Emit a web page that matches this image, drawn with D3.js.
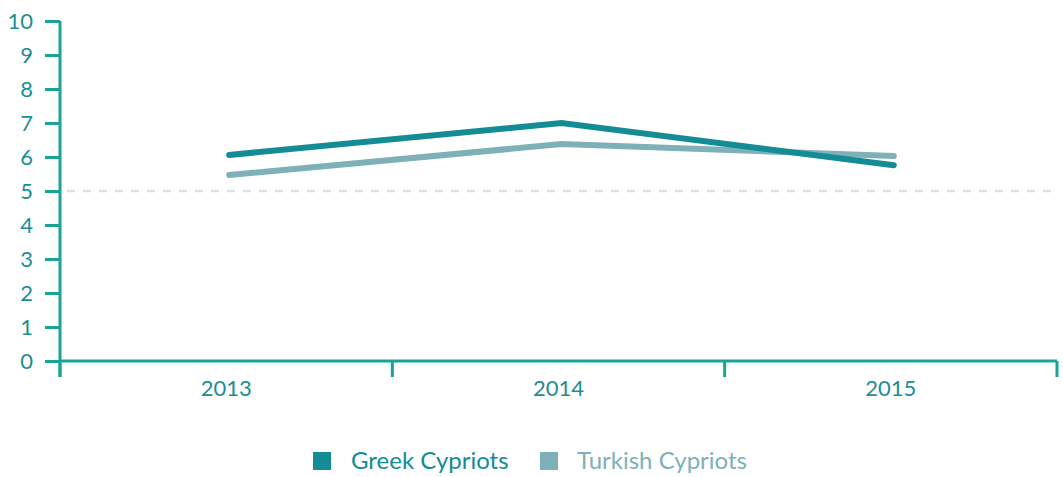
<!DOCTYPE html>
<html>
<head>
<meta charset="utf-8">
<script src="https://cdn.jsdelivr.net/npm/d3@7"></script>
<style>
  body { margin: 0; background: #fff; }
  text { font-family: Lato, "Open Sans", sans-serif; }
</style>
</head>
<body>
<div id="plot"></div>
<script>
let years = ['2013', '2014', '2015'];
let greekValues = [6.06, 7.0, 5.76];
let turkishValues = [5.47, 6.38, 6.03];
let seriesNames = ['Greek Cypriots', 'Turkish Cypriots'];
let seriesColors = ['#138c96', '#7eb0b9'];
let yTicks = [0, 1, 2, 3, 4, 5, 6, 7, 8, 9, 10];

let axisColor = '#1aa397',
    textColor = '#1b8e95';

let width = 1063, height = 477;
let margin = { top: 21, right: 6, bottom: 116, left: 60 };

let svg = d3.select('#plot')
    .append('svg')
        .attr('width', width)
        .attr('height', height);

let x = d3.scaleBand()
    .domain(years)
    .range([margin.left, width - margin.right]);

let y = d3.scaleLinear()
    .domain([0, 10])
    .range([height - margin.bottom, margin.top]);

// reference line at 5
svg.append('line')
    .attr('x1', margin.left + 7)
    .attr('x2', width - margin.right)
    .attr('y1', y(5))
    .attr('y2', y(5))
    .attr('stroke', '#d3e5e5')
    .attr('stroke-width', 2.5)
    .attr('stroke-dasharray', '8,8');

// y axis
let yAxis = svg.append('g')
    .attr('transform', 'translate(' + margin.left + ',0)')
    .call(d3.axisLeft(y).tickValues(yTicks).tickSize(15).tickPadding(12).tickSizeOuter(0));
yAxis.select('.domain').remove();
yAxis.selectAll('.tick line').attr('stroke', axisColor).attr('stroke-width', 3);
yAxis.selectAll('.tick text')
    .attr('fill', textColor)
    .style('font-size', '22px')
    .attr('dy', '0.36em');

svg.append('line')
    .attr('x1', margin.left).attr('x2', margin.left)
    .attr('y1', margin.top).attr('y2', y(0) + 16)
    .attr('stroke', axisColor).attr('stroke-width', 3);

// x axis
let xg = svg.append('g')
    .attr('transform', 'translate(0,' + y(0) + ')');
xg.append('line')
    .attr('x1', margin.left).attr('x2', width - margin.right)
    .attr('stroke', axisColor).attr('stroke-width', 3);
let bounds = years.map(d => x(d)).concat([x(years[years.length - 1]) + x.bandwidth()]);
xg.selectAll('.xtick')
    .data(bounds)
    .enter()
    .append('line')
        .attr('x1', d => d).attr('x2', d => d)
        .attr('y1', 0).attr('y2', 16)
        .attr('stroke', axisColor).attr('stroke-width', 3);
xg.selectAll('.xlabel')
    .data(years)
    .enter()
    .append('text')
        .attr('x', d => x(d) + x.bandwidth() / 2)
        .attr('y', 35)
        .attr('text-anchor', 'middle')
        .attr('fill', textColor)
        .style('font-size', '22px')
        .text(d => d);

// lines
let series = [greekValues, turkishValues];
let line = d3.line()
    .x((d, i) => x(years[i]) + x.bandwidth() / 2 + 3)
    .y(d => y(d));

svg.selectAll('.series')
    .data([1, 0])
    .enter()
    .append('path')
        .attr('d', i => line(series[i]))
        .attr('stroke', i => seriesColors[i])
        .attr('stroke-width', 6)
        .attr('stroke-linecap', 'round')
        .attr('stroke-linejoin', 'miter')
        .attr('fill', 'none');

// legend
let legendX = [313, 540];
let legend = svg.selectAll('.legend')
    .data(seriesNames)
    .enter()
    .append('g')
        .attr('transform', (d, i) => 'translate(' + legendX[i] + ',452)');
legend.append('rect')
    .attr('width', 18).attr('height', 18)
    .attr('fill', (d, i) => seriesColors[i]);
legend.append('text')
    .attr('x', (d, i) => i === 0 ? 38 : 37)
    .attr('y', 17)
    .attr('fill', (d, i) => seriesColors[i])
    .style('font-size', '24px')
    .text(d => d);
</script>
</body>
</html>
